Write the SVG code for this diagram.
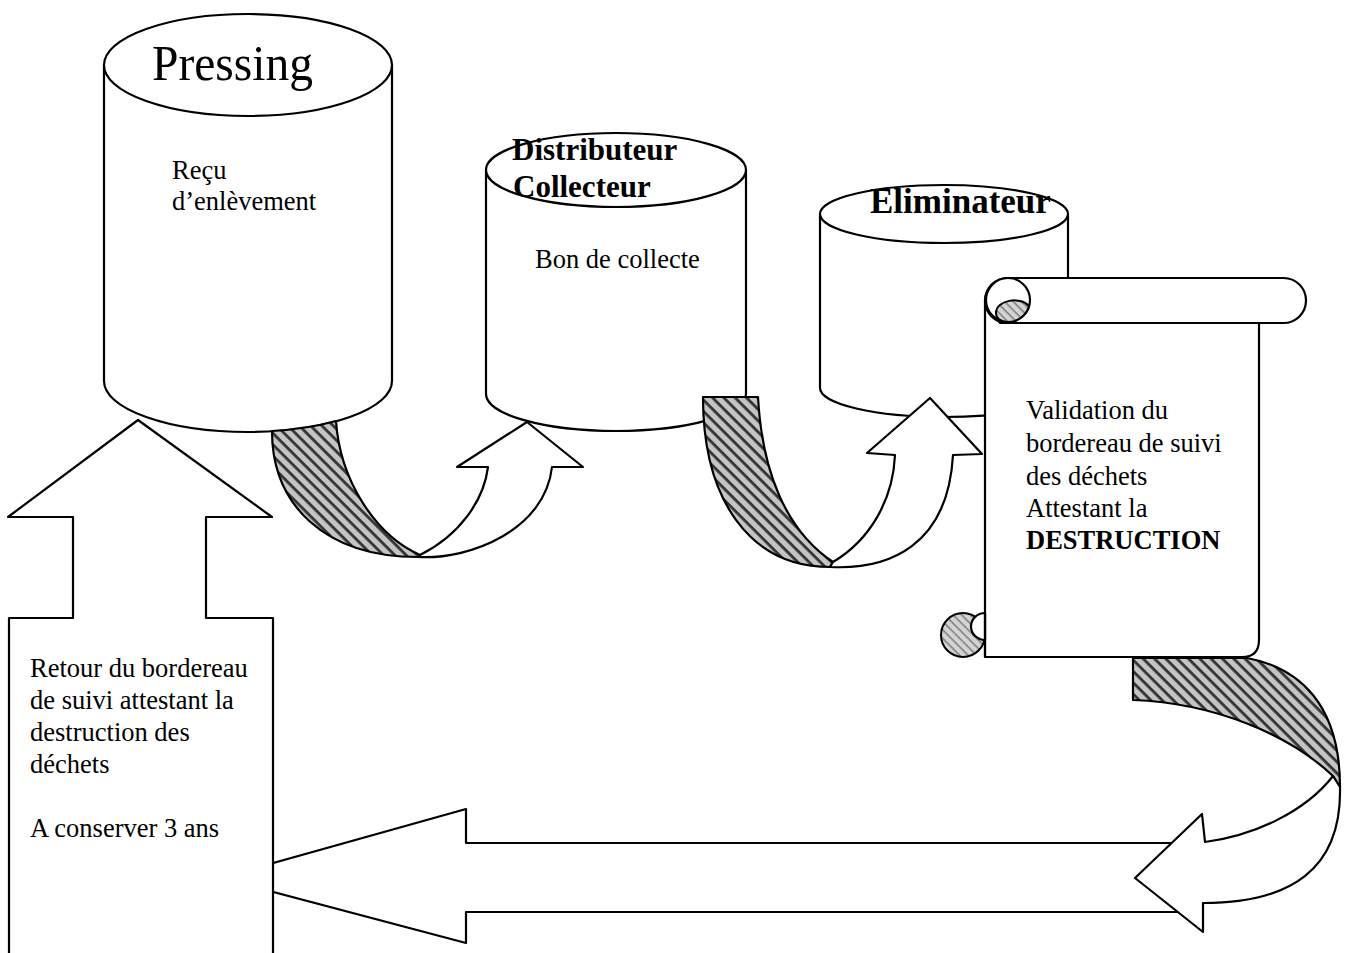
<svg xmlns="http://www.w3.org/2000/svg" width="1350" height="953" viewBox="0 0 1350 953">
<style>
.s{fill:#fff;stroke:#000;stroke-width:2.2;stroke-linejoin:round}
.h{fill:url(#hatch);stroke:#000;stroke-width:2.2;stroke-linejoin:round}
.hl{fill:url(#hatchL);stroke:#000;stroke-width:2}
.t{font-family:"Liberation Serif","Times New Roman",serif;font-size:26.5px;fill:#000}
.b{font-family:"Liberation Serif","Times New Roman",serif;font-weight:bold;fill:#000}
</style>
<defs>
<pattern id="hatch" patternUnits="userSpaceOnUse" width="8" height="8" patternTransform="rotate(45)">
<rect width="8" height="8" fill="#c4c4c4"/>
<rect y="0" width="8" height="2.8" fill="#333"/>
</pattern>
<pattern id="hatchL" patternUnits="userSpaceOnUse" width="6" height="6" patternTransform="rotate(45)">
<rect width="6" height="6" fill="#d4d4d4"/>
<rect width="6" height="1.5" fill="#7a7a7a"/>
</pattern>
</defs>
<g id="pressing">
<path class="s" d="M104,65 L104,381 A144,51 0 0 0 392,381 L392,65 Z"/>
<ellipse class="s" cx="248" cy="65" rx="144" ry="51"/>
<text class="t" x="152" y="80" style="font-size:51px" textLength="161" lengthAdjust="spacingAndGlyphs">Pressing</text>
<text class="t" x="172" y="179">Reçu</text>
<text class="t" x="172" y="210">d’enlèvement</text>
</g>
<g id="distributeur">
<path class="s" d="M486,170 L486,394 A130,37 0 0 0 746,394 L746,170 Z"/>
<ellipse class="s" cx="616" cy="170" rx="130" ry="37"/>
<text class="b" x="512" y="160" style="font-size:31px">Distributeur</text>
<text class="b" x="513" y="197" style="font-size:31px">Collecteur</text>
<text class="t" x="535" y="268">Bon de collecte</text>
</g>
<g id="eliminateur">
<path class="s" d="M820,214 L820,388 A124,29 0 0 0 1068,388 L1068,214 Z"/>
<ellipse class="s" cx="944" cy="214" rx="124" ry="29"/>
<text class="b" x="870" y="213" style="font-size:35px">Eliminateur</text>
</g>
<g id="connectors">
<g id="arrow1">
<path class="h" d="M272,431 A144,51 0 0 0 336,421 C340,480 375,535 420,555 L418,557 C325,557 272,505 272,431 Z"/>
<path class="s" d="M418,557 C470,560 545,530 552,467 L583,467 L527,422 L457,467 L488,467 C484,500 460,535 420,555 Z"/>
</g>
<g id="arrow2">
<path class="h" d="M703,397 L758,397 C762,470 785,530 833,562 L830,567 C750,567 703,500 703,397 Z"/>
<path class="s" d="M830,567 C890,570 948,545 953,455 L982,454 L930,398 L867,453 L895,455 C893,500 870,540 833,562 Z"/>
</g>
</g>
<g id="scroll">
<path class="s" d="M985,300 L985,657 L1242,657 Q1259,657 1259,640 L1259,323 L1000,323 Z"/>
<rect class="s" x="985" y="278" width="321" height="45" rx="22.5" ry="22.5"/>
<circle class="s" cx="1008" cy="300" r="22"/>
<path class="hl" d="M996,313 C996,300 1020,296 1029,306 A22,22 0 0 1 1008,322 C1000,322 996,318 996,313 Z"/>
<circle class="hl" cx="963" cy="635" r="22"/>
<path class="s" d="M985,613 A14,13.5 0 0 0 985,640 Z"/>
<line x1="985" y1="613" x2="985" y2="657" stroke="#000" stroke-width="2.2"/>
<text class="t" x="1026" y="419">Validation du</text>
<text class="t" x="1026" y="452">bordereau de suivi</text>
<text class="t" x="1026" y="485">des déchets</text>
<text class="t" x="1026" y="517">Attestant la</text>
<text class="b" x="1026" y="549" style="font-size:26.5px">DESTRUCTION</text>
</g>
<g id="return-arrow">
<path class="s" d="M1190,843 L466,843 L466,809 L220,878 L466,943 L466,912 L1190,912 Z"/>
</g>
<g id="arrow3">
<path class="h" d="M1133,658 L1247,658 C1300,668 1340,705 1340,787 L1333,776 C1290,735 1215,703 1133,700 Z"/>
<path class="s" d="M1340,787 C1342,870 1290,903 1203,903 L1203,932 L1135,878 L1202,814 L1205,842 C1255,835 1305,812 1333,776 Z"/>
</g>
<g id="retour">
<path class="s" d="M9,960 L9,618 L73,618 L73,517 L8,517 L138,420 L272,517 L206,517 L206,618 L273,618 L273,960 Z"/>
<text class="t" x="30" y="677">Retour du bordereau</text>
<text class="t" x="30" y="709">de suivi attestant la</text>
<text class="t" x="30" y="741">destruction des</text>
<text class="t" x="30" y="773">déchets</text>
<text class="t" x="30" y="837">A conserver 3 ans</text>
</g>
</svg>
